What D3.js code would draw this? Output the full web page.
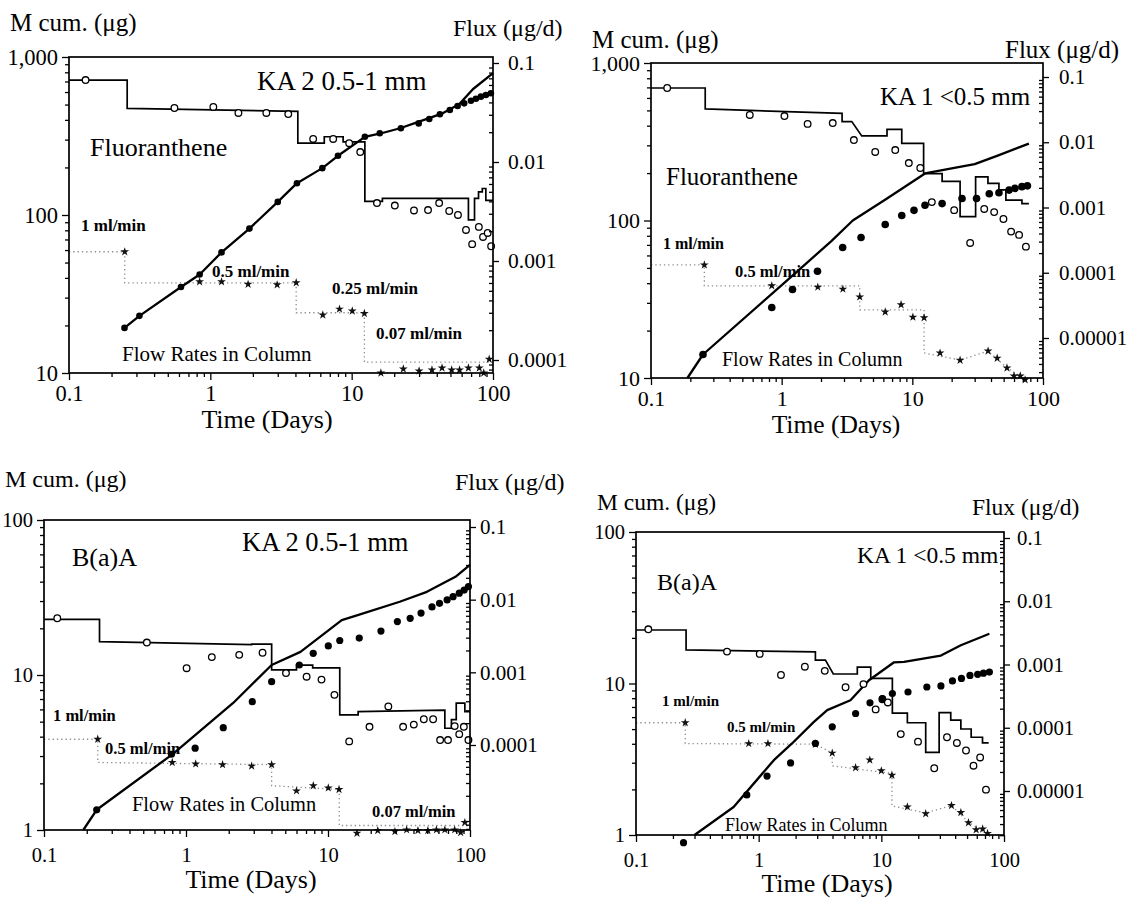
<!DOCTYPE html>
<html>
<head>
<meta charset="utf-8">
<script src="https://cdnjs.cloudflare.com/ajax/libs/d3/7.8.5/d3.min.js"></script>
<style>
  body { margin: 0; background: #fff; }
  svg { display: block; background: #fff; }
</style>
</head>
<body>
<svg id="fig" width="1131" height="901"></svg>
<script>
// ---------- shared axis ticks ----------
const timeTicks = [0.1, 1, 10, 100];
const massTicksFlu = [10, 100, 1000];
const massTicksBaA = [1, 10, 100];
const fluxTicksKA2 = [0.1, 0.01, 0.001, 0.0001];
const fluxTicksKA1 = [0.1, 0.01, 0.001, 0.0001, 0.00001];

// ---------- Fluoranthene, KA 2 0.5-1 mm ----------  [time (d), value]
const fluKA2CumModel = [[0.247,19.3],[0.315,23],[0.62,35],[0.84,42],[1.2,58],[1.89,82],[3.0,121],[4.1,159],[6.2,198],[8.0,237],[12.4,312],[16,328],[22,354],[30,390],[44,440],[58,505],[72,625],[100,790]];
const fluKA2CumObs = [[0.247,19.3],[0.315,23],[0.62,35],[0.84,42],[1.2,58],[1.89,82],[3.0,121],[4.1,159],[6.2,198],[8.0,237],[12.4,313],[15.8,329],[22.3,354],[29.8,380],[35.4,405],[42.1,434],[49.5,462],[56.2,490],[62.5,509],[69.8,529],[75.7,544],[82.1,561],[89.1,575],[96.6,589]];
const fluKA2Flux = [[0.131,0.0673],[0.557,0.0351],[1.05,0.036],[1.58,0.0313],[2.49,0.0313],[3.56,0.0305],[5.34,0.0171],[7.4,0.0171],[9.6,0.0155],[11.5,0.0126],[15.1,0.00385],[20.2,0.00363],[27.6,0.00324],[34.7,0.00327],[41.6,0.00385],[49,0.0032],[56.5,0.00292],[64.4,0.00206],[71.2,0.00148],[79.4,0.00221],[85,0.00175],[91.7,0.00192],[97,0.00141]];
const fluKA2FluxModel = [[0.1,0.0673],[0.258,0.0673],[0.258,0.0348],[4.16,0.0324],[4.16,0.0155],[6.4,0.0155],[6.4,0.018],[8.7,0.018],[8.7,0.016],[12.4,0.016],[12.4,0.0040],[16.5,0.0040],[16.5,0.0043],[67,0.0043],[67,0.0026],[74,0.0026],[74,0.0043],[79,0.0043],[79,0.0050],[84,0.0050],[84,0.0054],[89,0.0054],[89,0.0041],[100,0.0041]];
const fluKA2FlowPts = [[0.248,0.00124],[0.84,0.000617],[1.2,0.000617],[1.85,0.000582],[2.97,0.000575],[4.05,0.000603],[6.25,0.000285],[8.2,0.000327],[10.1,0.000313],[12.3,0.000295],[16.1,0.0000741],[23.2,0.0000813],[30,0.0000776],[37,0.0000794],[43.6,0.0000832],[51,0.0000794],[58,0.0000794],[67,0.0000832],[80,0.0000832],[86,0.0000741],[94,0.000102]];
const fluKA2FlowRate = [[0.1,0.00124],[0.248,0.00124],[0.248,0.0006],[4.05,0.0006],[4.05,0.0003],[12.3,0.0003],[12.3,0.000095],[100,0.000095]];

// ---------- Fluoranthene, KA 1 <0.5 mm ----------
const fluKA1CumModel = [[0.19,10],[0.25,14.1],[1.26,46],[2.4,74],[3.5,100],[6.4,138],[12.5,199],[20,214],[30,228],[45,258],[78,308]];
const fluKA1CumObs = [[0.25,14.1],[0.84,28],[1.21,36.5],[1.88,47.6],[2.93,67.4],[4.05,78],[6.2,94.4],[8.3,107.6],[10.3,116],[12.5,125],[16.9,128],[24,138],[31,138],[38.8,148],[46,150],[55,156],[61,160],[69,164],[76,166]];
const fluKA1Flux = [[0.133,0.0678],[0.57,0.0262],[1.05,0.0252],[1.58,0.0191],[2.46,0.0197],[3.57,0.0108],[5.2,0.0071],[7.4,0.0076],[9.4,0.0048],[11.5,0.00403],[14.1,0.00121],[20.9,0.00091],[27.7,0.000286],[35.5,0.00095],[42.3,0.00085],[49.8,0.000667],[57,0.000427],[65.6,0.00038],[74,0.000251]];
const fluKA1FluxModel = [[0.1,0.0678],[0.26,0.0678],[0.26,0.0324],[2.9,0.0277],[2.9,0.0207],[3.44,0.0207],[4.1,0.0125],[6.4,0.0125],[6.4,0.0158],[8.3,0.0158],[8.3,0.00964],[12.2,0.00964],[12.2,0.0033],[16.9,0.0033],[16.9,0.00251],[23.2,0.00251],[23.2,0.000724],[30.5,0.000724],[30.5,0.00295],[37.9,0.00295],[37.9,0.00234],[46,0.00234],[46,0.00186],[52,0.00186],[52,0.0013],[69,0.0013],[69,0.00115],[78,0.00115]];
const fluKA1FlowPts = [[0.256,0.000132],[0.84,0.0000631],[1.89,0.0000603],[2.94,0.0000562],[3.96,0.0000427],[6.2,0.0000251],[8.2,0.0000324],[10.1,0.0000209],[12.3,0.0000204],[16.3,0.00000589],[23.2,0.00000457],[38,0.00000631],[44.6,0.0000049],[53,0.00000347],[60,0.00000263],[67,0.00000263],[73,0.00000229]];
const fluKA1FlowRate = [[0.1,0.000132],[0.256,0.000132],[0.256,0.0000631],[3.96,0.0000631],[3.96,0.000027],[12.3,0.000027],[12.3,0.0000059],[23.2,0.0000046],[38,0.0000063],[53,0.0000035],[73,0.0000023]];

// ---------- B(a)A, KA 2 0.5-1 mm ----------
const baaKA2CumModel = [[0.189,1],[0.235,1.35],[0.81,3.1],[2.15,6.6],[4.01,11.6],[6.4,14.1],[12.5,22.6],[16.4,24.4],[32,29.7],[49.7,34.4],[79,43],[100,51.3]];
const baaKA2CumObs = [[0.235,1.35],[0.79,3.08],[1.16,3.37],[1.83,4.57],[2.93,6.73],[4.01,9.06],[6.28,11.6],[7.87,13.8],[10.05,15.4],[12.1,16.7],[16.6,17.3],[23.6,19.2],[30.8,22.1],[37.9,23.2],[45.2,25.1],[54,27.5],[61,29],[69,30.5],[76,32],[84,33.7],[91,35.3],[97.5,37.2]];
const baaKA2Flux = [[0.124,0.00555],[0.53,0.00257],[1.01,0.00114],[1.52,0.00162],[2.37,0.00174],[3.46,0.00186],[5.06,0.000977],[7.07,0.000871],[9.0,0.000794],[11.1,0.00049],[14.1,0.000112],[19.6,0.000178],[26.6,0.000339],[33.8,0.000178],[40.2,0.000191],[47.3,0.000226],[55,0.000226],[61.6,0.000117],[70,0.000117],[78,0.000182],[84,0.000141],[90.5,0.000178],[97.5,0.000117]];
const baaKA2FluxModel = [[0.1,0.00537],[0.246,0.00537],[0.246,0.00264],[2.9,0.0024],[2.9,0.00245],[4.01,0.00245],[4.01,0.00108],[6.0,0.00108],[6.0,0.00126],[7.8,0.00126],[7.8,0.00115],[12.1,0.00115],[12.1,0.000259],[16.3,0.000259],[16.3,0.000288],[66.5,0.000302],[66.5,0.00017],[74,0.00017],[74,0.000224],[80,0.000224],[80,0.000376],[92,0.000376],[92,0.000288],[100,0.000288]];
const baaKA2FlowPts = [[0.239,0.00012],[0.8,0.0000575],[1.17,0.000055],[1.81,0.0000537],[2.9,0.0000513],[4.01,0.0000537],[6.0,0.0000234],[7.88,0.0000275],[10.05,0.0000257],[11.96,0.0000245],[16,0.0000061],[22.4,0.00000665],[29.6,0.00000645],[35.8,0.0000068],[43,0.00000665],[50.5,0.00000665],[58,0.0000068],[66.5,0.0000068],[78,0.0000068],[86,0.00000624],[92,0.00000857]];
const baaKA2FlowRate = [[0.1,0.00012],[0.239,0.00012],[0.239,0.0000575],[4.01,0.0000537],[4.01,0.0000275],[12,0.0000245],[12,0.0000078],[100,0.0000078]];

// ---------- B(a)A, KA 1 <0.5 mm ----------
const baaKA1CumModel = [[0.30,1],[0.625,1.53],[1.33,3.12],[1.87,4.02],[2.82,5.58],[3.62,6.67],[5.6,7.76],[7.93,10.5],[12.7,13.8],[15.3,13.9],[30.6,15.3],[44.5,17.9],[76,21.3]];
const baaKA1CumObs = [[0.244,0.89],[0.80,1.84],[1.17,2.45],[1.82,2.99],[2.9,4.02],[3.98,5.18],[6.17,6.34],[8.08,7.45],[10.2,7.94],[12.3,8.59],[16.5,8.79],[23.5,9.48],[30.6,9.64],[38,10.4],[45,10.8],[52.8,11.3],[61,11.5],[68,11.7],[76,11.9]];
const baaKA1Flux = [[0.126,0.0036],[0.552,0.0016],[1.02,0.00147],[1.52,0.000682],[2.38,0.000923],[3.46,0.000794],[5.11,0.000437],[7.15,0.00049],[8.99,0.000195],[10.2,0.000282],[11.3,0.000251],[14.4,0.0000794],[19.9,0.0000603],[27,0.0000229],[34.3,0.0000708],[41.3,0.0000575],[49,0.0000437],[56.4,0.0000251],[63.9,0.0000339],[71.3,0.0000105]];
const baaKA1FluxModel = [[0.1,0.00351],[0.256,0.00351],[0.256,0.0017],[2.9,0.00158],[2.9,0.00117],[3.5,0.00117],[4.06,0.000708],[6.37,0.000708],[6.37,0.000912],[8.2,0.000912],[8.2,0.000603],[12.3,0.000603],[12.3,0.00017],[16.3,0.00017],[16.3,0.00012],[23,0.00012],[23,0.0000407],[29.6,0.0000407],[29.6,0.000174],[36.8,0.000174],[36.8,0.000132],[44.5,0.000132],[44.5,0.0000955],[54,0.0000955],[54,0.0000708],[66.8,0.0000708],[66.8,0.0000575],[75,0.0000575]];
const baaKA1FlowPts = [[0.252,0.00012],[0.83,0.0000562],[1.19,0.0000562],[2.9,0.000055],[3.98,0.0000398],[6.17,0.0000234],[8.05,0.0000309],[10,0.0000209],[12.2,0.0000178],[16.3,0.00000562],[23,0.00000437],[37.3,0.00000589],[44.5,0.00000457],[51.3,0.00000316],[59.3,0.00000245],[67,0.00000251],[73.4,0.00000214]];
const baaKA1FlowRate = [[0.1,0.00012],[0.252,0.00012],[0.252,0.0000562],[2.9,0.000055],[3.98,0.0000398],[3.98,0.000025],[12.2,0.000019],[12.2,0.0000058],[23,0.0000045],[37.3,0.0000059],[51.3,0.0000032],[73.4,0.0000021]];

// ---------- panel placement ----------
const SERIF = '"Liberation Serif","Times New Roman",Times,serif';
const panels = [
  { x:[69,493], yl:[373,57], yr:[360,63], massDom:[10,1000], fluxDom:[1e-4,0.1],
    massTicks:massTicksFlu, fluxTicks:fluxTicksKA2, tickFs:22.5, rightFs:21.5, xLabBase:28, rightPad:9, dotR:3.3,
    cumModel:fluKA2CumModel, cumObs:fluKA2CumObs, flux:fluKA2Flux, fluxModel:fluKA2FluxModel, flowPts:fluKA2FlowPts, flowRate:fluKA2FlowRate,
    texts:[["M cum. (μg)",10,31,25],["Flux (μg/d)",453,36,24],["KA 2 0.5-1 mm",257,90,27],["Fluoranthene",90,156,26],
           ["1 ml/min",81,231,17,"bold"],["0.5 ml/min",212,277,17,"bold"],["0.25 ml/min",332,294,17,"bold"],["0.07 ml/min",376,339,17,"bold"],
           ["Flow Rates in Column",122,361,21],["Time (Days)",267,428,26,"normal","middle"]] },
  { x:[651,1043], yl:[378,63], yr:[338,77], massDom:[10,1000], fluxDom:[1e-5,0.1],
    massTicks:massTicksFlu, fluxTicks:fluxTicksKA1, tickFs:22, rightFs:21, xLabBase:28, rightPad:10, dotR:3.8,
    cumModel:fluKA1CumModel, cumObs:fluKA1CumObs, flux:fluKA1Flux, fluxModel:fluKA1FluxModel, flowPts:fluKA1FlowPts, flowRate:fluKA1FlowRate,
    texts:[["M cum. (μg)",592,48,25],["Flux (μg/d)",1005,58,25],["KA 1 <0.5 mm",880,105,25],["Fluoranthene",666,185,25],
           ["1 ml/min",663,249,16,"bold"],["0.5 ml/min",735,277,16.5,"bold"],
           ["Flow Rates in Column",722,366,20],["Time (Days)",836,433,25.5,"normal","middle"]] },
  { x:[44,470], yl:[830,520], yr:[745,527], massDom:[1,100], fluxDom:[1e-4,0.1],
    massTicks:massTicksBaA, fluxTicks:fluxTicksKA2, tickFs:20.5, rightFs:21, xLabBase:32, rightPad:4, dotR:3.6,
    cumModel:baaKA2CumModel, cumObs:baaKA2CumObs, flux:baaKA2Flux, fluxModel:baaKA2FluxModel, flowPts:baaKA2FlowPts, flowRate:baaKA2FlowRate,
    texts:[["M cum. (μg)",5,487,24],["Flux (μg/d)",455,490,24],["B(a)A",72,566,26],["KA 2 0.5-1 mm",242,551,26.5],
           ["1 ml/min",53,721,16.5,"bold"],["0.5 ml/min",105,754,16.5,"bold"],["0.07 ml/min",372,817,16.5,"bold"],
           ["Flow Rates in Column",132,811,20.4],["Time (Days)",251,888,26,"normal","middle"]] },
  { x:[636,1004], yl:[835,532], yr:[791,538], massDom:[1,100], fluxDom:[1e-5,0.1],
    massTicks:massTicksBaA, fluxTicks:fluxTicksKA1, tickFs:20.5, rightFs:20.8, xLabBase:32, rightPad:7, dotR:3.6,
    cumModel:baaKA1CumModel, cumObs:baaKA1CumObs, flux:baaKA1Flux, fluxModel:baaKA1FluxModel, flowPts:baaKA1FlowPts, flowRate:baaKA1FlowRate,
    texts:[["M cum. (μg)",597,510,23.5],["Flux (μg/d)",972,515,23.5],["KA 1 <0.5 mm",857,563,23.5],["B(a)A",657,590,24],
           ["1 ml/min",662,706,15,"bold"],["0.5 ml/min",727,732,15,"bold"],
           ["Flow Rates in Column",725,831,18],["Time (Days)",827,892,26,"normal","middle"]] }
];

const svg = d3.select("#fig");

// 2..9 multiples of each decade whose position falls inside [lo, hi] pixels
function minorTicks(scale, lo, hi) {
  const out = [];
  for (let d = -7; d <= 3; d++) {
    for (let k = 2; k <= 9; k++) {
      const v = +(k * Math.pow(10, d)).toPrecision(6);
      const p = scale(v);
      if (p >= Math.min(lo, hi) - 0.5 && p <= Math.max(lo, hi) + 0.5) out.push(v);
    }
  }
  return out;
}

function styleAxis(sel, fs) {
  sel.select(".domain").remove();
  sel.attr("font-family", SERIF).attr("font-size", fs);
  sel.selectAll("line").attr("stroke", "#000").attr("stroke-width", 1.3);
  sel.selectAll("text").attr("fill", "#000");
}

function drawPanel(p) {
  const g = svg.append("g");
  const x = d3.scaleLog().domain([0.1, 100]).range(p.x);
  const yL = d3.scaleLog().domain(p.massDom).range(p.yl);
  const yR = d3.scaleLog().domain(p.fluxDom).range(p.yr);
  const left = p.x[0], right = p.x[1], top = p.yl[1], bottom = p.yl[0];

  // flow-rate trace (dotted) and its markers
  const lineR = d3.line().x(d => x(d[0])).y(d => yR(d[1]));
  g.append("path").datum(p.flowRate).attr("d", lineR)
    .attr("fill", "none").attr("stroke", "#8c8c8c").attr("stroke-width", 1.3).attr("stroke-dasharray", "1.3 3");
  g.selectAll(".flow").data(p.flowPts).join("path")
    .attr("transform", d => `translate(${x(d[0])},${yR(d[1])})`)
    .attr("d", d3.symbol(d3.symbolStar).size(24)).attr("fill", "#111");

  // modelled flux (step trace)
  g.append("path").datum(p.fluxModel).attr("d", lineR)
    .attr("fill", "none").attr("stroke", "#000").attr("stroke-width", 1.7).attr("stroke-linejoin", "miter");

  // modelled cumulative mass
  const lineL = d3.line().x(d => x(d[0])).y(d => yL(d[1]));
  g.append("path").datum(p.cumModel).attr("d", lineL)
    .attr("fill", "none").attr("stroke", "#000").attr("stroke-width", 2.3).attr("stroke-linejoin", "round");

  // measured flux (open circles)
  g.selectAll(".fx").data(p.flux).join("circle")
    .attr("cx", d => x(d[0])).attr("cy", d => yR(d[1])).attr("r", 3.3)
    .attr("fill", "#fff").attr("stroke", "#000").attr("stroke-width", 1.3);

  // measured cumulative mass (filled dots)
  g.selectAll(".cm").data(p.cumObs).join("circle")
    .attr("cx", d => x(d[0])).attr("cy", d => yL(d[1])).attr("r", p.dotR).attr("fill", "#000");

  // frame
  g.append("rect").attr("x", left).attr("y", top).attr("width", right - left).attr("height", bottom - top)
    .attr("fill", "none").attr("stroke", "#000").attr("stroke-width", 1.7);

  // left axis: cumulative mass
  g.append("g").attr("transform", `translate(${left},0)`)
    .call(d3.axisLeft(yL).tickValues(minorTicks(yL, top, bottom)).tickSize(4).tickFormat(""))
    .call(s => styleAxis(s, p.tickFs));
  g.append("g").attr("transform", `translate(${left},0)`)
    .call(d3.axisLeft(yL).tickValues(p.massTicks).tickSize(7).tickPadding(4).tickFormat(d3.format(",")))
    .call(s => styleAxis(s, p.tickFs));

  // right axis: flux
  g.append("g").attr("transform", `translate(${right},0)`)
    .call(d3.axisLeft(yR).tickValues(minorTicks(yR, top, bottom)).tickSize(4).tickFormat(""))
    .call(s => styleAxis(s, p.rightFs));
  g.append("g").attr("transform", `translate(${right},0)`)
    .call(d3.axisRight(yR).tickValues(p.fluxTicks).tickSize(6).tickPadding(p.rightPad).tickFormat(d => String(d)))
    .call(s => styleAxis(s, p.rightFs));

  // bottom axis: time
  g.append("g").attr("transform", `translate(0,${bottom})`)
    .call(d3.axisBottom(x).tickValues(minorTicks(x, left, right)).tickSize(4).tickFormat(""))
    .call(s => styleAxis(s, p.tickFs));
  g.append("g").attr("transform", `translate(0,${bottom})`)
    .call(d3.axisBottom(x).tickValues(timeTicks).tickSize(7).tickPadding(p.xLabBase - 7 - p.tickFs * 0.71).tickFormat(d => String(d)))
    .call(s => styleAxis(s, p.tickFs));

  // titles and annotations
  g.selectAll(".lbl").data(p.texts).join("text")
    .attr("x", d => d[1]).attr("y", d => d[2])
    .attr("font-size", d => d[3]).attr("font-weight", d => d[4] || "normal")
    .attr("text-anchor", d => d[5] || "start")
    .attr("font-family", SERIF).attr("fill", "#000")
    .text(d => d[0]);
}

panels.forEach(drawPanel);
</script>
</body>
</html>
